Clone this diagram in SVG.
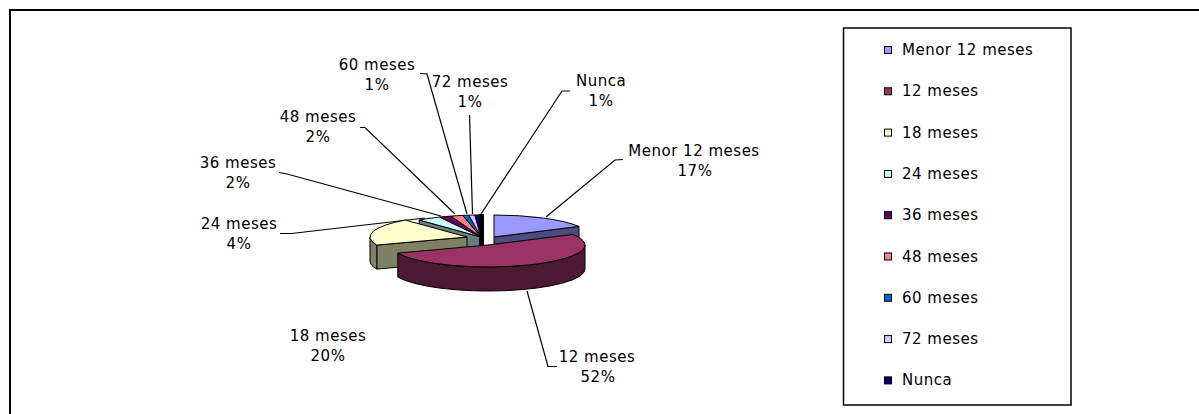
<svg xmlns="http://www.w3.org/2000/svg" width="1199" height="414" viewBox="0 0 1199 414">
<style>
.t{font-family:"DejaVu Sans","Liberation Sans",sans-serif;font-size:15px;fill:#000;letter-spacing:0.5px}
.m{text-anchor:middle}
.ln{fill:none;stroke:#000;stroke-width:1.2}
.e{stroke:#000;stroke-width:1;stroke-linejoin:round}
.sw{stroke:#000;stroke-width:1}
</style>
<rect x="0" y="0" width="1199" height="414" fill="#fff"/>
<rect x="10" y="10" width="1200" height="420" fill="none" stroke="#000" stroke-width="2"/>

<g id="connectors">
<polyline class="ln" points="623,159.5 615,160 546,217"/>
<polyline class="ln" points="527,291 548,366.5 557,366.5"/>
<polyline class="ln" points="280,233.5 291.5,233.5 425,218"/>
<polyline class="ln" points="279,172.5 287,174 441,216"/>
<polyline class="ln" points="360,127.5 365,127.5 455,214"/>
<polyline class="ln" points="420,73.5 427,74 467,214"/>
<polyline class="ln" points="469.5,115 472.5,214"/>
<polyline class="ln" points="570,91 562,91 481,214"/>
</g>

<g id="slice-menor">
<path class="e" fill="#4C4C80" d="M494,237 L579,226.4 L579,250.4 L494,261 Z"/>
<path class="e" fill="#9999FF" d="M494,237 L494,215 A97,22 0 0 1 579,226.4 Z"/>
</g>
<g id="slice-24">
<path class="e" fill="#668080" d="M481,237 L419.2,220 L419.2,244 L481,261 Z"/>
<path class="e" fill="#CCFFFF" d="M481,237 L419.2,220 A97,22 0 0 1 439.7,217.1 Z"/>
</g>
<g id="slice-36">
<path class="e" fill="#660066" d="M481,237 L439.7,217.1 A97,22 0 0 1 451,216.1 Z"/>
</g>
<g id="slice-48">
<path class="e" fill="#FF8080" d="M481,237 L451,216.1 A97,22 0 0 1 462.8,215.4 Z"/>
</g>
<g id="slice-60">
<path class="e" fill="#0066CC" d="M481,237 L462.8,215.4 A97,22 0 0 1 468.8,215.2 Z"/>
</g>
<g id="slice-72">
<path class="e" fill="#CCCCFF" d="M481,237 L468.8,215.2 A97,22 0 0 1 474.9,215 Z"/>
</g>
<g id="slice-nunca">
<path class="e" fill="#000080" d="M481,237 L474.9,215 A97,22 0 0 1 481,215 Z"/>
<rect x="479" y="214" width="5" height="33" fill="#000"/>
</g>
<g id="slice-18">
<path class="e" fill="#808066" d="M467,237 L376.8,245.1 L376.8,269.1 L467,261 Z"/>
<path class="e" fill="#808066" d="M376.8,245.1 A97,22 0 0 1 370,237 L370,261 A97,22 0 0 0 376.8,269.1 Z"/>
<path class="e" fill="#FFFFCC" d="M467,237 L376.8,245.1 A97,22 0 0 1 405.2,220.05 Z"/>
</g>
<g id="slice-12">
<path class="e" fill="#4C1933" d="M585,245 A97,22 0 0 1 397.8,253.1 L397.8,277.1 A97,22 0 0 0 585,269 Z"/>
<path class="e" fill="#993366" d="M488,245 L573,234.4 A97,22 0 1 1 397.8,253.1 Z"/>
</g>

<g id="label-menor"><text class="t m" x="694" y="156">Menor 12 meses</text><text class="t m" x="695" y="176">17%</text></g>
<g id="label-12"><text class="t m" x="597" y="362">12 meses</text><text class="t m" x="598" y="382">52%</text></g>
<g id="label-18"><text class="t m" x="328" y="341">18 meses</text><text class="t m" x="328" y="361">20%</text></g>
<g id="label-24"><text class="t m" x="239" y="228.5">24 meses</text><text class="t m" x="239" y="248.5">4%</text></g>
<g id="label-36"><text class="t m" x="238" y="167.5">36 meses</text><text class="t m" x="238" y="187.5">2%</text></g>
<g id="label-48"><text class="t m" x="318" y="121.5">48 meses</text><text class="t m" x="318" y="141.5">2%</text></g>
<g id="label-60"><text class="t m" x="377" y="70">60 meses</text><text class="t m" x="377" y="90">1%</text></g>
<g id="label-72"><text class="t m" x="470" y="87">72 meses</text><text class="t m" x="470" y="107">1%</text></g>
<g id="label-nunca"><text class="t m" x="601" y="86">Nunca</text><text class="t m" x="601" y="106">1%</text></g>

<g id="legend">
<rect x="843.5" y="28" width="227.5" height="377" fill="#fff" stroke="#000" stroke-width="1.5"/>
<g id="leg-menor"><rect class="sw" x="884.5" y="46.5" width="7" height="7" fill="#9999FF"/><text class="t" x="902" y="55">Menor 12 meses</text></g>
<g id="leg-12"><rect class="sw" x="884.5" y="87.8" width="7" height="7" fill="#993366"/><text class="t" x="902" y="96.3">12 meses</text></g>
<g id="leg-18"><rect class="sw" x="884.5" y="129.1" width="7" height="7" fill="#FFFFCC"/><text class="t" x="902" y="137.6">18 meses</text></g>
<g id="leg-24"><rect class="sw" x="884.5" y="170.4" width="7" height="7" fill="#CCFFFF"/><text class="t" x="902" y="178.9">24 meses</text></g>
<g id="leg-36"><rect class="sw" x="884.5" y="211.7" width="7" height="7" fill="#660066"/><text class="t" x="902" y="220.2">36 meses</text></g>
<g id="leg-48"><rect class="sw" x="884.5" y="253" width="7" height="7" fill="#FF8080"/><text class="t" x="902" y="261.5">48 meses</text></g>
<g id="leg-60"><rect class="sw" x="884.5" y="294.3" width="7" height="7" fill="#0066CC"/><text class="t" x="902" y="302.8">60 meses</text></g>
<g id="leg-72"><rect class="sw" x="884.5" y="335.6" width="7" height="7" fill="#CCCCFF"/><text class="t" x="902" y="344.1">72 meses</text></g>
<g id="leg-nunca"><rect class="sw" x="884.5" y="376.9" width="7" height="7" fill="#000080"/><text class="t" x="902" y="385.4">Nunca</text></g>
</g>
</svg>
